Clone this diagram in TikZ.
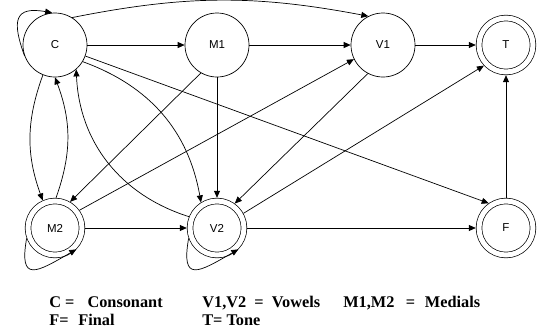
\documentclass[tikz,border=0pt]{standalone}
\usepackage{fontspec}
\setmainfont{Liberation Serif}
\setsansfont{Liberation Sans}
\usetikzlibrary{arrows.meta,automata,positioning}

\begin{document}
\begin{tikzpicture}[>={Triangle[length=7pt,width=6pt]},line width=0.7pt,auto,
                    node distance=162pt,
                    every state/.style={draw,minimum size=64pt,inner sep=0pt,
                                        font=\sffamily\fontsize{11.5}{13}\selectfont},
                    accepting/.style={double,double distance=5pt,minimum size=54pt,
                                      outer sep=3.2pt},
                    legend/.style={anchor=base west,inner sep=0pt,
                                   font=\bfseries\fontsize{16.3}{18}\selectfont}]
  \useasboundingbox (0,0) rectangle (539pt,-333pt);

  \node[state]           (C)  at (55pt,-45pt)                   {C};
  \node[state]           (M1) [right of=C]                      {M1};
  \node[state]           (V1) [right of=M1,node distance=166pt] {V1};
  \node[state,accepting] (T)  [right of=V1,node distance=123pt] {T};
  \node[state,accepting] (M2) [below of=C,node distance=183pt]  {M2};
  \node[state,accepting] (V2) [below of=M1,node distance=183pt] {V2};
  \node[state,accepting] (F)  [below of=T,node distance=183pt]  {F};

  \path[->] (C.200) edge [out=110,in=170,looseness=1.9] (C.95)
            (C)     edge                                (M1)
            (C.58)  edge [bend left=11]                 (V1.117)
            (C.-31) edge [bend left=30]                 (V2.122)
            (C.-20) edge                                (F.125)
            (C.248) edge [bend right=20]                (M2.114)
        (M1)     edge                                (V1)
                 edge                                (V2)
        (M1.240) edge                                (M2.60)
        (V1)     edge                                (T)
        (V1.242) edge                                (V2.54)
        (M2.88)  edge [bend right=20]                (C.270)
        (M2.36)  edge                                (V1.206)
        (M2)     edge                                (V2)
        (M2.200) edge [out=260,in=210,looseness=2.3] (M2.-45)
        (V2.158) edge [bend left=35]                 (C.-49)
        (V2.29)  edge                                (T.223)
        (V2)     edge                                (F)
        (V2.200) edge [out=260,in=210,looseness=2.3] (V2.-45)
        (F)      edge                                (T);

  % key
  \node[legend] (keyC) at (49pt,-307pt)  {C =\hspace{0.8em}Consonant};
  \node[legend] (keyV) at (202pt,-307pt) {V1,V2\hspace{0.5em}=\hspace{0.5em}Vowels};
  \node[legend] (keyM) at (343pt,-307pt) {M1,M2\hspace{0.7em}=\hspace{0.6em}Medials};
  \node[legend] (keyF) at (49pt,-325pt)  {F=\hspace{0.6em}Final};
  \node[legend] (keyT) at (202pt,-325pt) {T= Tone};
\end{tikzpicture}
\end{document}
